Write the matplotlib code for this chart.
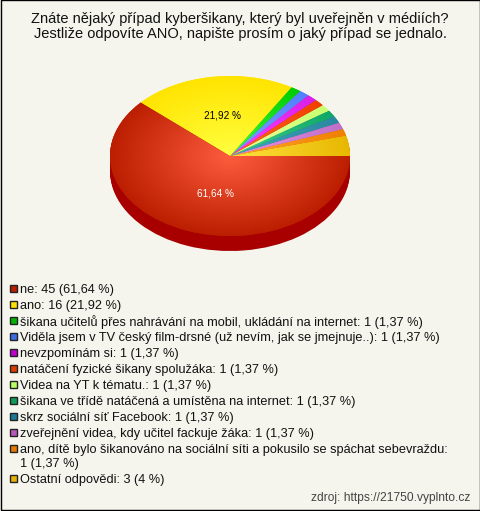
import matplotlib
matplotlib.use('Agg')
import matplotlib.pyplot as plt
from matplotlib.patches import Rectangle
from matplotlib.colors import to_rgb
import numpy as np

plt.rcParams['font.family'] = ['Liberation Sans', 'DejaVu Sans']

# Data
title = 'Znáte nějaký případ kyberšikany, který byl uveřejněn v médiích?\nJestliže odpovíte ANO, napište prosím o jaký případ se jednalo.'
labels = ['ne: 45 (61,64 %)',
          'ano: 16 (21,92 %)',
          'šikana učitelů přes nahrávání na mobil, ukládání na internet: 1 (1,37 %)',
          'Viděla jsem v TV český film-drsné (už nevím, jak se jmejnuje..): 1 (1,37 %)',
          'nevzpomínám si: 1 (1,37 %)',
          'natáčení fyzické šikany spolužáka: 1 (1,37 %)',
          'Videa na YT k tématu.: 1 (1,37 %)',
          'šikana ve třídě natáčená a umístěna na internet: 1 (1,37 %)',
          'skrz sociální síť Facebook: 1 (1,37 %)',
          'zveřejnění videa, kdy učitel fackuje žáka: 1 (1,37 %)',
          'ano, dítě bylo šikanováno na sociální síti a pokusilo se spáchat sebevraždu:\n1 (1,37 %)',
          'Ostatní odpovědi: 3 (4 %)']
values = [45, 16, 1, 1, 1, 1, 1, 1, 1, 1, 1, 3]
legend_colors = ['#bb1e00', '#ffe000', '#00b400', '#3d6ce8', '#c000d0', '#e03c00',
                 '#b8ff60', '#0c9c5c', '#1a7a98', '#b858b8', '#e87800', '#e6b000']
edge_colors = ['#bb1e00', '#ffe400', '#00cc00', '#5080ff', '#d820e8', '#f04000',
               '#c8ff70', '#10a868', '#2a88a0', '#c070c8', '#f08000', '#e8b800']
light_colors = ['#ff5c3e', '#ffff40', '#40ff40', '#80a0ff', '#ff40ff', '#ff6820',
                '#e8ffa0', '#40d090', '#40a8c0', '#e890e0', '#ffa830', '#ffe040']
side_color = '#a80000'
bg_color = '#f5f5ee'
W, H = 480, 511

fig = plt.figure(figsize=(W / 100, H / 100), dpi=100, facecolor=bg_color)

# pie axes, 240x160 px ellipse plus 15 px of depth
depth = 15 / 80
ax = fig.add_axes([110 / W, 1 - 251 / H, 240 / W, 175 / H])

# red last, the slices run counter clockwise from 3 o'clock
vals = values[::-1]
edges = edge_colors[::-1]
lights = light_colors[::-1]

for d in np.linspace(depth, 0.01, 16):
    ax.pie(vals, colors=[side_color] * len(vals), center=(0, -d), radius=1, startangle=0)

wedges, _ = ax.pie(vals, colors=edges, radius=1, startangle=0)

xx, yy = np.meshgrid(np.linspace(-1, 1, 480), np.linspace(1, -1, 320))
t = np.clip(np.hypot(xx, yy), 0, 1)[..., None]
for w, c0, c1 in zip(wedges, lights, edges):
    img = np.array(to_rgb(c0)) * (1 - t) + np.array(to_rgb(c1)) * t
    im = ax.imshow(img, extent=(-1, 1, -1, 1), aspect='auto', zorder=w.get_zorder() + 0.5)
    im.set_clip_path(w)

ax.set_xlim(-1, 1)
ax.set_ylim(-1 - depth, 1)
ax.set_aspect('auto')
ax.axis('off')

# overlay in pixel coordinates for the texts and the legend
ov = fig.add_axes([0, 0, 1, 1], facecolor='none')
ov.set_xlim(0, W)
ov.set_ylim(H, 0)
ov.axis('off')

px = 0.72  # pt per pixel at dpi 100
ov.add_patch(Rectangle((0.5, 0.5), W - 1, H - 1, fill=False, ec='black', lw=1))
ov.text(240, 19.5, title.split('\n')[0], ha='center', va='center', fontsize=14.6 * px, color='#111111')
ov.text(240, 34, title.split('\n')[1], ha='center', va='center', fontsize=14.6 * px, color='#111111')
ov.text(223, 116, '21,92 %', ha='center', va='center', fontsize=10 * px, color='black')
ov.text(215.5, 193, '61,64 %', ha='center', va='center', fontsize=10 * px, color='white')

y = 289
for lab, col in zip(labels, legend_colors):
    ov.add_patch(Rectangle((9.5, y - 3.5), 7, 7, fc=col, ec='#222222', lw=1))
    lines = lab.split('\n')
    for k, line in enumerate(lines):
        ov.text(20, y + 1 + k * 14, line, ha='left', va='center', fontsize=12.8 * px, color='#111111')
    y += 16 + (len(lines) - 1) * 14

ov.text(470, 497.5, 'zdroj: https://21750.vyplnto.cz', ha='right', va='center', fontsize=12 * px, color='#444444')

fig.savefig('out.png', dpi=100, facecolor=bg_color)
